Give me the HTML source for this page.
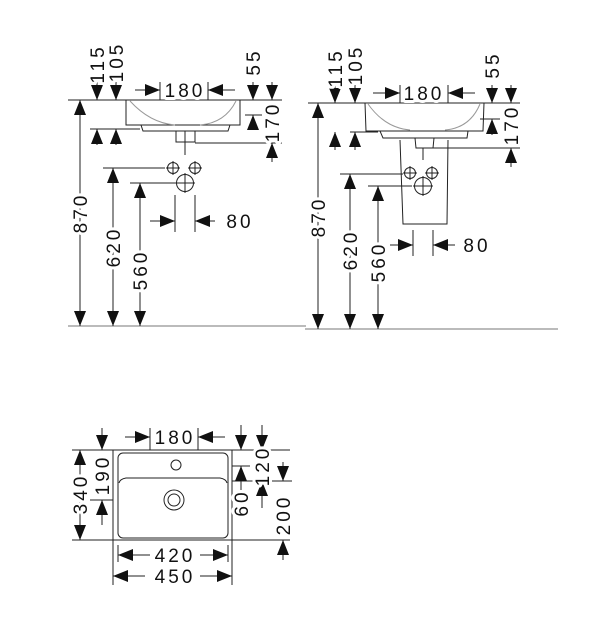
<!DOCTYPE html>
<html><head><meta charset="utf-8"><style>
html,body{margin:0;padding:0;background:#fff;}
svg{display:block}
text{font-family:"Liberation Sans",sans-serif;font-size:19px;fill:#111;letter-spacing:3px;stroke:#fff;stroke-width:6px;paint-order:stroke;stroke-linejoin:round}
</style></head><body>
<svg width="608" height="630" viewBox="0 0 608 630" xmlns="http://www.w3.org/2000/svg">
<defs>
<path id="a" d="M-6,-15 L6,-15 L0,0Z" fill="#111"/>
</defs>
<g stroke="#222" stroke-width="1" fill="none">
<line x1="68" y1="100" x2="282" y2="100"/>
<line x1="68" y1="326" x2="306" y2="326" stroke="#777"/>
<line x1="80" y1="100" x2="80" y2="326"/>
<line x1="97" y1="82" x2="97" y2="100"/><line x1="116" y1="82" x2="116" y2="100"/>
<line x1="90" y1="129" x2="140" y2="129"/>
<line x1="97" y1="129" x2="97" y2="145"/><line x1="116" y1="129" x2="116" y2="145"/>
<path d="M126,100 L126,125 L240,125 L240,100"/>
<path d="M130,101 Q150,123 175,125" stroke="#999"/>
<path d="M236,101 Q225,123 200,125" stroke="#999"/>
<path d="M141,125 L143,131 L228,131 L230,125"/>
<path d="M176,131 L176,142 L195,142 L195,131"/>
<line x1="185" y1="131" x2="185" y2="155"/>
<line x1="160" y1="82" x2="160" y2="100"/><line x1="208" y1="82" x2="208" y2="100"/>
<line x1="135" y1="90" x2="160" y2="90"/><line x1="208" y1="90" x2="235" y2="90"/>
<line x1="253" y1="82" x2="253" y2="100"/><line x1="272" y1="82" x2="272" y2="100"/>
<line x1="245" y1="115" x2="262" y2="115"/><line x1="253" y1="115" x2="253" y2="130"/>
<line x1="195" y1="143" x2="282" y2="143"/><line x1="272" y1="143" x2="272" y2="162"/>
<circle cx="173" cy="168" r="5.5"/><circle cx="195" cy="168" r="5.5"/><circle cx="185" cy="183" r="8.5"/>
<path d="M166,168h14M173,161v14M188,168h14M195,161v14M175,183h20M185,173v20"/>
<line x1="103" y1="168" x2="165" y2="168"/><line x1="113" y1="168" x2="113" y2="326"/>
<line x1="130" y1="183" x2="175" y2="183"/><line x1="140" y1="183" x2="140" y2="326"/>
<line x1="175" y1="195" x2="175" y2="232"/><line x1="195" y1="195" x2="195" y2="232"/>
<line x1="150" y1="221" x2="175" y2="221"/><line x1="195" y1="221" x2="215" y2="221"/>
<line x1="308" y1="103" x2="520" y2="103"/>
<line x1="305" y1="329" x2="558" y2="329" stroke="#777"/>
<line x1="318" y1="103" x2="318" y2="329"/>
<line x1="335" y1="85" x2="335" y2="103"/><line x1="355" y1="85" x2="355" y2="103"/>
<line x1="350" y1="132" x2="378" y2="132"/>
<line x1="335" y1="132" x2="335" y2="150"/><line x1="355" y1="132" x2="355" y2="150"/>
<path d="M365,103 L366,131 L483,131 L484,103"/>
<path d="M368,104 Q385,128 410,130" stroke="#999"/>
<path d="M480,104 Q470,128 445,130" stroke="#999"/>
<path d="M380,131 L383,138 L467,138 L468,131"/>
<path d="M400,140 L403,224 L447,224 L448,140"/>
<path d="M415,138 L416,148 L433,148 L434,138"/>
<line x1="423" y1="148" x2="423" y2="160"/>
<line x1="400" y1="85" x2="400" y2="103"/><line x1="448" y1="85" x2="448" y2="103"/>
<line x1="373" y1="93" x2="400" y2="93"/><line x1="448" y1="93" x2="475" y2="93"/>
<line x1="492" y1="85" x2="492" y2="103"/><line x1="511" y1="85" x2="511" y2="103"/>
<line x1="480" y1="119" x2="500" y2="119"/><line x1="492" y1="119" x2="492" y2="135"/>
<line x1="430" y1="148" x2="520" y2="148"/><line x1="511" y1="148" x2="511" y2="167"/>
<circle cx="410" cy="173" r="5.5"/><circle cx="432" cy="173" r="5.5"/><circle cx="423" cy="186" r="8.5"/>
<path d="M403,173h14M410,166v14M425,173h14M432,166v14M413,186h20M423,176v20"/>
<line x1="340" y1="174" x2="403" y2="174"/><line x1="350" y1="174" x2="350" y2="329"/>
<line x1="368" y1="186" x2="412" y2="186"/><line x1="378" y1="186" x2="378" y2="329"/>
<line x1="413" y1="230" x2="413" y2="256"/><line x1="433" y1="230" x2="433" y2="256"/>
<line x1="390" y1="245" x2="413" y2="245"/><line x1="433" y1="245" x2="455" y2="245"/>
<line x1="72" y1="450" x2="290" y2="450"/>
<line x1="72" y1="540" x2="290" y2="540"/>
<line x1="80" y1="450" x2="80" y2="540"/>
<line x1="113" y1="450" x2="113" y2="585"/><line x1="232" y1="450" x2="232" y2="585"/>
<rect x="118" y="453" width="110" height="85" rx="5"/>
<path d="M119,483 Q120,479 126,478 L220,478 Q226,479 227,483"/>
<circle cx="176" cy="465" r="5"/>
<circle cx="174" cy="500" r="10"/><circle cx="174" cy="500" r="6"/>
<line x1="102" y1="428" x2="102" y2="450"/>
<line x1="90" y1="500" x2="113" y2="500"/><line x1="102" y1="500" x2="102" y2="525"/>
<line x1="150" y1="428" x2="150" y2="450"/><line x1="198" y1="428" x2="198" y2="450"/>
<line x1="125" y1="437" x2="150" y2="437"/><line x1="198" y1="437" x2="225" y2="437"/>
<line x1="241" y1="425" x2="241" y2="450"/><line x1="262" y1="425" x2="262" y2="450"/>
<line x1="232" y1="466" x2="250" y2="466"/><line x1="241" y1="466" x2="241" y2="490"/>
<line x1="232" y1="481" x2="292" y2="481"/><line x1="283" y1="462" x2="283" y2="481"/>
<line x1="262" y1="481" x2="262" y2="508"/>
<line x1="283" y1="540" x2="283" y2="560"/>
<line x1="118" y1="545" x2="118" y2="562"/><line x1="228" y1="545" x2="228" y2="562"/>
<line x1="118" y1="555" x2="150" y2="555"/><line x1="200" y1="555" x2="228" y2="555"/>
<line x1="113" y1="576" x2="145" y2="576"/><line x1="200" y1="576" x2="232" y2="576"/>
</g>
<g>
<use href="#a" transform="translate(80,100) rotate(180)"/><use href="#a" transform="translate(80,326)"/>
<use href="#a" transform="translate(97,100)"/><use href="#a" transform="translate(116,100)"/>
<use href="#a" transform="translate(97,129) rotate(180)"/><use href="#a" transform="translate(116,129) rotate(180)"/>
<use href="#a" transform="translate(160,90) rotate(-90)"/><use href="#a" transform="translate(208,90) rotate(90)"/>
<use href="#a" transform="translate(253,100)"/><use href="#a" transform="translate(272,100)"/>
<use href="#a" transform="translate(253,115) rotate(180)"/><use href="#a" transform="translate(272,143) rotate(180)"/>
<use href="#a" transform="translate(113,168) rotate(180)"/><use href="#a" transform="translate(113,326)"/>
<use href="#a" transform="translate(140,183) rotate(180)"/><use href="#a" transform="translate(140,326)"/>
<use href="#a" transform="translate(175,221) rotate(-90)"/><use href="#a" transform="translate(195,221) rotate(90)"/>
<use href="#a" transform="translate(318,103) rotate(180)"/><use href="#a" transform="translate(318,329)"/>
<use href="#a" transform="translate(335,103)"/><use href="#a" transform="translate(355,103)"/>
<use href="#a" transform="translate(335,132) rotate(180)"/><use href="#a" transform="translate(355,132) rotate(180)"/>
<use href="#a" transform="translate(400,93) rotate(-90)"/><use href="#a" transform="translate(448,93) rotate(90)"/>
<use href="#a" transform="translate(492,103)"/><use href="#a" transform="translate(511,103)"/>
<use href="#a" transform="translate(492,119) rotate(180)"/><use href="#a" transform="translate(511,148) rotate(180)"/>
<use href="#a" transform="translate(350,174) rotate(180)"/><use href="#a" transform="translate(350,329)"/>
<use href="#a" transform="translate(378,186) rotate(180)"/><use href="#a" transform="translate(378,329)"/>
<use href="#a" transform="translate(413,245) rotate(-90)"/><use href="#a" transform="translate(433,245) rotate(90)"/>
<use href="#a" transform="translate(80,450) rotate(180)"/><use href="#a" transform="translate(80,540)"/>
<use href="#a" transform="translate(102,450)"/><use href="#a" transform="translate(102,500) rotate(180)"/>
<use href="#a" transform="translate(150,437) rotate(-90)"/><use href="#a" transform="translate(198,437) rotate(90)"/>
<use href="#a" transform="translate(241,450)"/><use href="#a" transform="translate(262,450)"/>
<use href="#a" transform="translate(241,466) rotate(180)"/>
<use href="#a" transform="translate(262,481) rotate(180)"/><use href="#a" transform="translate(283,481)"/>
<use href="#a" transform="translate(283,540) rotate(180)"/>
<use href="#a" transform="translate(118,555) rotate(90)"/><use href="#a" transform="translate(228,555) rotate(-90)"/>
<use href="#a" transform="translate(113,576) rotate(90)"/><use href="#a" transform="translate(232,576) rotate(-90)"/>
</g>
<g>
<text x="185" y="97" text-anchor="middle">180</text>
<text x="424" y="100" text-anchor="middle">180</text>
<text x="175" y="444" text-anchor="middle">180</text>
<text x="240" y="228" text-anchor="middle">80</text>
<text x="477" y="252" text-anchor="middle">80</text>
<text x="175" y="562" text-anchor="middle">420</text>
<text x="175" y="583" text-anchor="middle">450</text>
<text transform="translate(104,64) rotate(-90)" text-anchor="middle">115</text>
<text transform="translate(123,62) rotate(-90)" text-anchor="middle">105</text>
<text transform="translate(260,62) rotate(-90)" text-anchor="middle">55</text>
<text transform="translate(279,122) rotate(-90)" text-anchor="middle">170</text>
<text transform="translate(87,213) rotate(-90)" text-anchor="middle">870</text>
<text transform="translate(120,247) rotate(-90)" text-anchor="middle">620</text>
<text transform="translate(147,270) rotate(-90)" text-anchor="middle">560</text>
<text transform="translate(342,68) rotate(-90)" text-anchor="middle">115</text>
<text transform="translate(362,65) rotate(-90)" text-anchor="middle">105</text>
<text transform="translate(499,65) rotate(-90)" text-anchor="middle">55</text>
<text transform="translate(518,125) rotate(-90)" text-anchor="middle">170</text>
<text transform="translate(325,217) rotate(-90)" text-anchor="middle">870</text>
<text transform="translate(357,250) rotate(-90)" text-anchor="middle">620</text>
<text transform="translate(385,262) rotate(-90)" text-anchor="middle">560</text>
<text transform="translate(87,494) rotate(-90)" text-anchor="middle">340</text>
<text transform="translate(109,475) rotate(-90)" text-anchor="middle">190</text>
<text transform="translate(269,466) rotate(-90)" text-anchor="middle">120</text>
<text transform="translate(248,503) rotate(-90)" text-anchor="middle">60</text>
<text transform="translate(290,515) rotate(-90)" text-anchor="middle">200</text>
</g>
</svg>
</body></html>
